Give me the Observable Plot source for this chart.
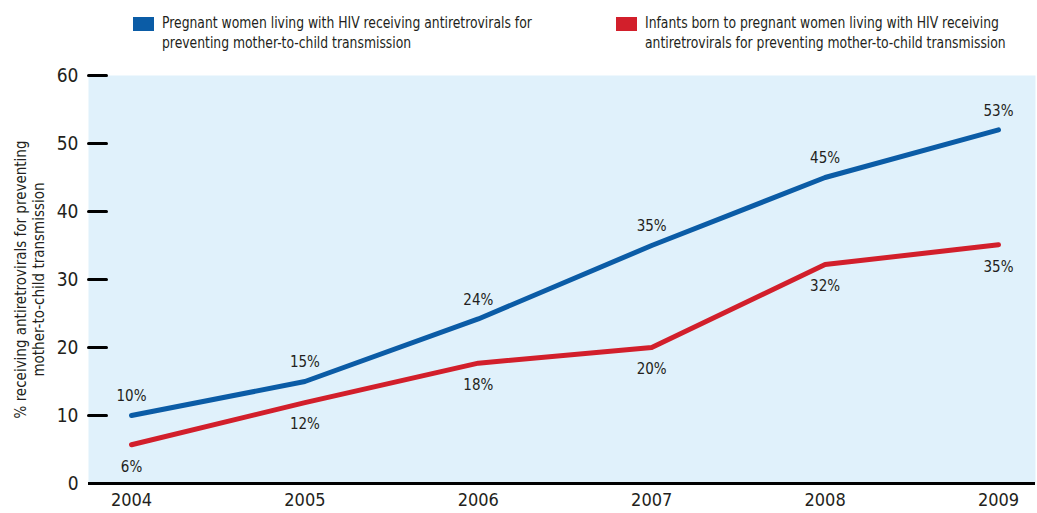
<!DOCTYPE html>
<html><head><meta charset="utf-8">
<script src="https://cdn.jsdelivr.net/npm/d3@7"></script>
<script src="https://cdn.jsdelivr.net/npm/@observablehq/plot@0.6"></script>
<style>
body{margin:0;background:#fff;font-family:"DejaVu Sans Condensed","DejaVu Sans",sans-serif;color:#231f20;}
#legend{position:relative;height:62px;width:1037px;font-size:16px;line-height:20px;}
.item{position:absolute;top:13px;}
.sw{position:absolute;top:4px;width:21px;height:14px;}
.txt{position:absolute;left:29px;white-space:nowrap;transform:scaleX(0.86);transform-origin:0 0;}
</style></head>
<body>
<div id="legend"></div>
<div id="chart"></div>
<script>
const years = [2004, 2005, 2006, 2007, 2008, 2009];
const women = [10, 15, 24.2, 35, 45, 52];
const womenLabels = ["10%", "15%", "24%", "35%", "45%", "53%"];
const infants = [5.7, 11.9, 17.7, 20, 32.2, 35.1];
const infantsLabels = ["6%", "12%", "18%", "20%", "32%", "35%"];
const yTicks = [0, 10, 20, 30, 40, 50, 60];
const seriesNames = [
  "Pregnant women living with HIV receiving antiretrovirals for\npreventing mother-to-child transmission",
  "Infants born to pregnant women living with HIV receiving\nantiretrovirals for preventing mother-to-child transmission"
];
const colors = ["#0b5ca6", "#d21f2b"];
const yLabel = "% receiving antiretrovirals for preventing\nmother-to-child transmission";

const legend = document.getElementById("legend");
const lefts = [133, 616];
seriesNames.forEach((n, i) => {
  const it = document.createElement("div");
  it.className = "item"; it.style.left = lefts[i] + "px";
  it.innerHTML = `<div class="sw" style="background:${colors[i]}"></div><div class="txt">${n.replace("\n","<br>")}</div>`;
  legend.appendChild(it);
});

const blue = years.map((y, i) => ({year: y, v: women[i], label: womenLabels[i]}));
const red = years.map((y, i) => ({year: y, v: infants[i], label: infantsLabels[i]}));
const tickShape = {draw(ctx, l) { ctx.moveTo(0, 0); ctx.lineTo(0, -l); }};
const font = '"DejaVu Sans Condensed","DejaVu Sans",sans-serif';

const plot = Plot.plot({
  width: 1037, height: 451,
  marginLeft: 88, marginRight: 2, marginTop: 13, marginBottom: 30,
  style: {fontFamily: font, color: "#231f20", background: "transparent"},
  x: {domain: [2004, 2009], insetLeft: 43, insetRight: 37},
  y: {domain: [0, 60]},
  marks: [
    Plot.frame({fill: "#e0f1fb", stroke: null}),
    Plot.axisY({ticks: yTicks, tickSize: 0, tickPadding: 10, fontSize: 19, label: null}),
    Plot.axisX({ticks: years, tickFormat: d => String(d), tickSize: 0, tickPadding: 10, fontSize: 18, label: null}),
    Plot.vector(yTicks.filter(d => d > 0), {y: d => d, frameAnchor: "left", length: 18, rotate: 90, anchor: "start", shape: tickShape, stroke: "#000", strokeWidth: 3}),
    Plot.ruleY([0], {stroke: "#000", strokeWidth: 3}),
    Plot.text([yLabel], {frameAnchor: "left", textAnchor: "middle", rotate: -90, dx: -59, fontSize: 15, lineHeight: 1.2, fill: "#231f20"}),
    Plot.line(blue, {x: "year", y: "v", stroke: colors[0], strokeWidth: 5, strokeLinecap: "round", strokeLinejoin: "round"}),
    Plot.line(red, {x: "year", y: "v", stroke: colors[1], strokeWidth: 5, strokeLinecap: "round", strokeLinejoin: "round"}),
    Plot.text(blue, {x: "year", y: "v", text: "label", dy: -19, fontSize: 15, fill: "#231f20"}),
    Plot.text(red, {x: "year", y: "v", text: "label", dy: 22, fontSize: 15, fill: "#231f20"})
  ]
});
document.getElementById("chart").appendChild(plot);
</script>
</body></html>
